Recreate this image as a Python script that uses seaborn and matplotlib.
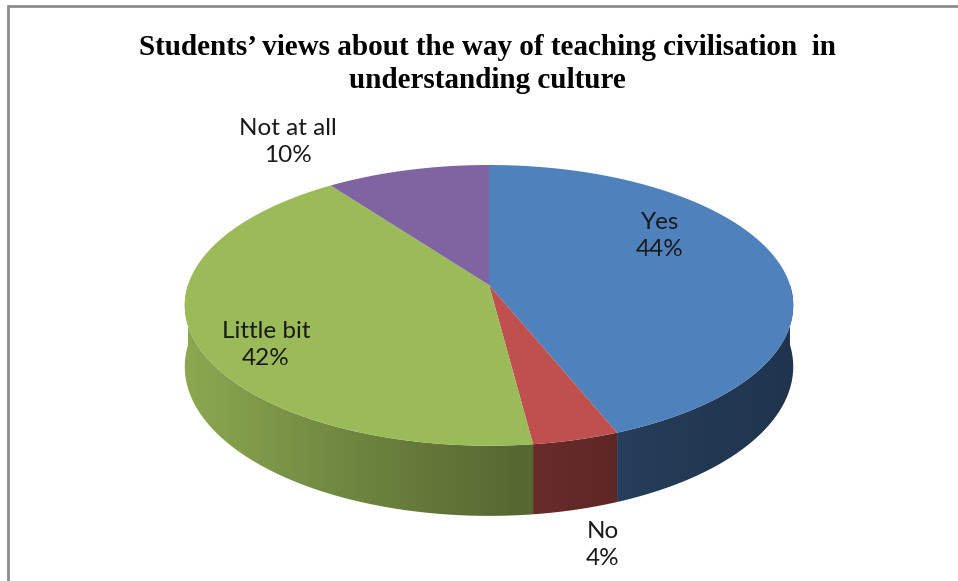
import numpy as np
import matplotlib
matplotlib.use("Agg")
import matplotlib.pyplot as plt
from matplotlib.lines import Line2D
from matplotlib.patches import Polygon
import matplotlib.colors as mcolors
import seaborn as sns

# Survey answers and their shares (%)
categories = ["Yes", "No", "Little bit", "Not at all"]
shares = [44, 4, 42, 10]
slice_colors = ["#4f81bd", "#c0504d", "#9bbb59", "#8064a2"]
title = "Students\u2019 views about the way of teaching civilisation  in\nunderstanding culture"

sns.set_style("white")
palette = sns.color_palette(slice_colors)

W, H = 958, 581
fig = plt.figure(figsize=(W / 100, H / 100), dpi=100)
ax = fig.add_axes([0, 0, 1, 1])
ax.set_xlim(0, W)
ax.set_ylim(H, 0)
ax.axis("off")

# Projection of the tilted disc (pixel units, perspective toward the viewer)
cx, cy = 489, 285
R, Ry = 301, 137.4
persp = 0.145
thick = 60


def project(u, v, drop=0.0):
    s = 1.0 / (1.0 + persp * v)
    return cx + R * u * s, cy - Ry * v * s + drop * s


def side_shade(u):
    # lighter on the left-facing wall, darker to the right
    t = np.clip((1 - u) / 2, 0, 1)
    return 0.41 + 0.49 * t ** 1.5


# Slice angles: start at 12 o'clock, run clockwise
edges = 90 - 360 * np.concatenate([[0], np.cumsum(shares)]) / np.sum(shares)

for i, col in enumerate(palette):
    a_start, a_end = edges[i], edges[i + 1]
    base = np.array(mcolors.to_rgb(col))

    # side wall (front half only), shaded left to right
    lo_all, hi_all = min(a_start, a_end), max(a_start, a_end)
    for k in (-1, 0, 1):
        lo = max(lo_all, 180 + 360 * k)
        hi = min(hi_all, 360 + 360 * k)
        if hi <= lo:
            continue
        angs = np.radians(np.linspace(lo, hi, 300))
        u, v = np.cos(angs), np.sin(angs)
        tx, ty = project(u, v)
        bx, by = project(u, v, thick)
        pts = np.vstack([np.c_[tx, ty], np.c_[bx, by][::-1]])
        wall = Polygon(pts, closed=True, facecolor="none", edgecolor="none")
        ax.add_patch(wall)
        x0, x1 = pts[:, 0].min() - 1, pts[:, 0].max() + 1
        y0, y1 = pts[:, 1].min() - 1, pts[:, 1].max() + 1
        xcols = np.linspace(x0, x1, 400)
        shade = side_shade((xcols - cx) / R)
        grad = np.clip(base[None, :] * shade[:, None], 0, 1)[None, :, :]
        im = ax.imshow(grad, extent=(x0, x1, y1, y0), aspect="auto",
                       interpolation="bilinear", zorder=2)
        im.set_clip_path(wall)

    # top face
    th = np.radians(np.linspace(a_start, a_end, 200))
    xs, ys = project(np.cos(th), np.sin(th))
    ax.fill(np.r_[cx, xs], np.r_[cy, ys], color=col, linewidth=0, zorder=3)

ax.set_xlim(0, W)
ax.set_ylim(H, 0)

# Slice labels
label_pos = {
    "Yes": (660, 236),
    "No": (603, 545),
    "Little bit": (266, 345),
    "Not at all": (288, 142),
}
for name, val in zip(categories, shares):
    x, y = label_pos[name]
    ax.text(x, y, f"{name}\n{val}%", ha="center", va="center",
            fontsize=17.5, family="Lato", color="#1a1a1a",
            linespacing=1.35, zorder=5)

# Title
fig.text(487 / W, 1 - 64 / H, title, ha="center", va="center",
         fontsize=21, fontweight="bold", family="Liberation Serif",
         color="#000000", linespacing=1.25)

# Chart frame
frame = "#8c8c8c"
fig.add_artist(Line2D([7.5 / W, 7.5 / W], [0, 1 - 6 / H], color=frame,
                      linewidth=2.0, transform=fig.transFigure))
fig.add_artist(Line2D([7.5 / W, 1], [1 - 6 / H, 1 - 6 / H], color=frame,
                      linewidth=2.0, transform=fig.transFigure))

fig.savefig("out.png", dpi=100, facecolor="white")
